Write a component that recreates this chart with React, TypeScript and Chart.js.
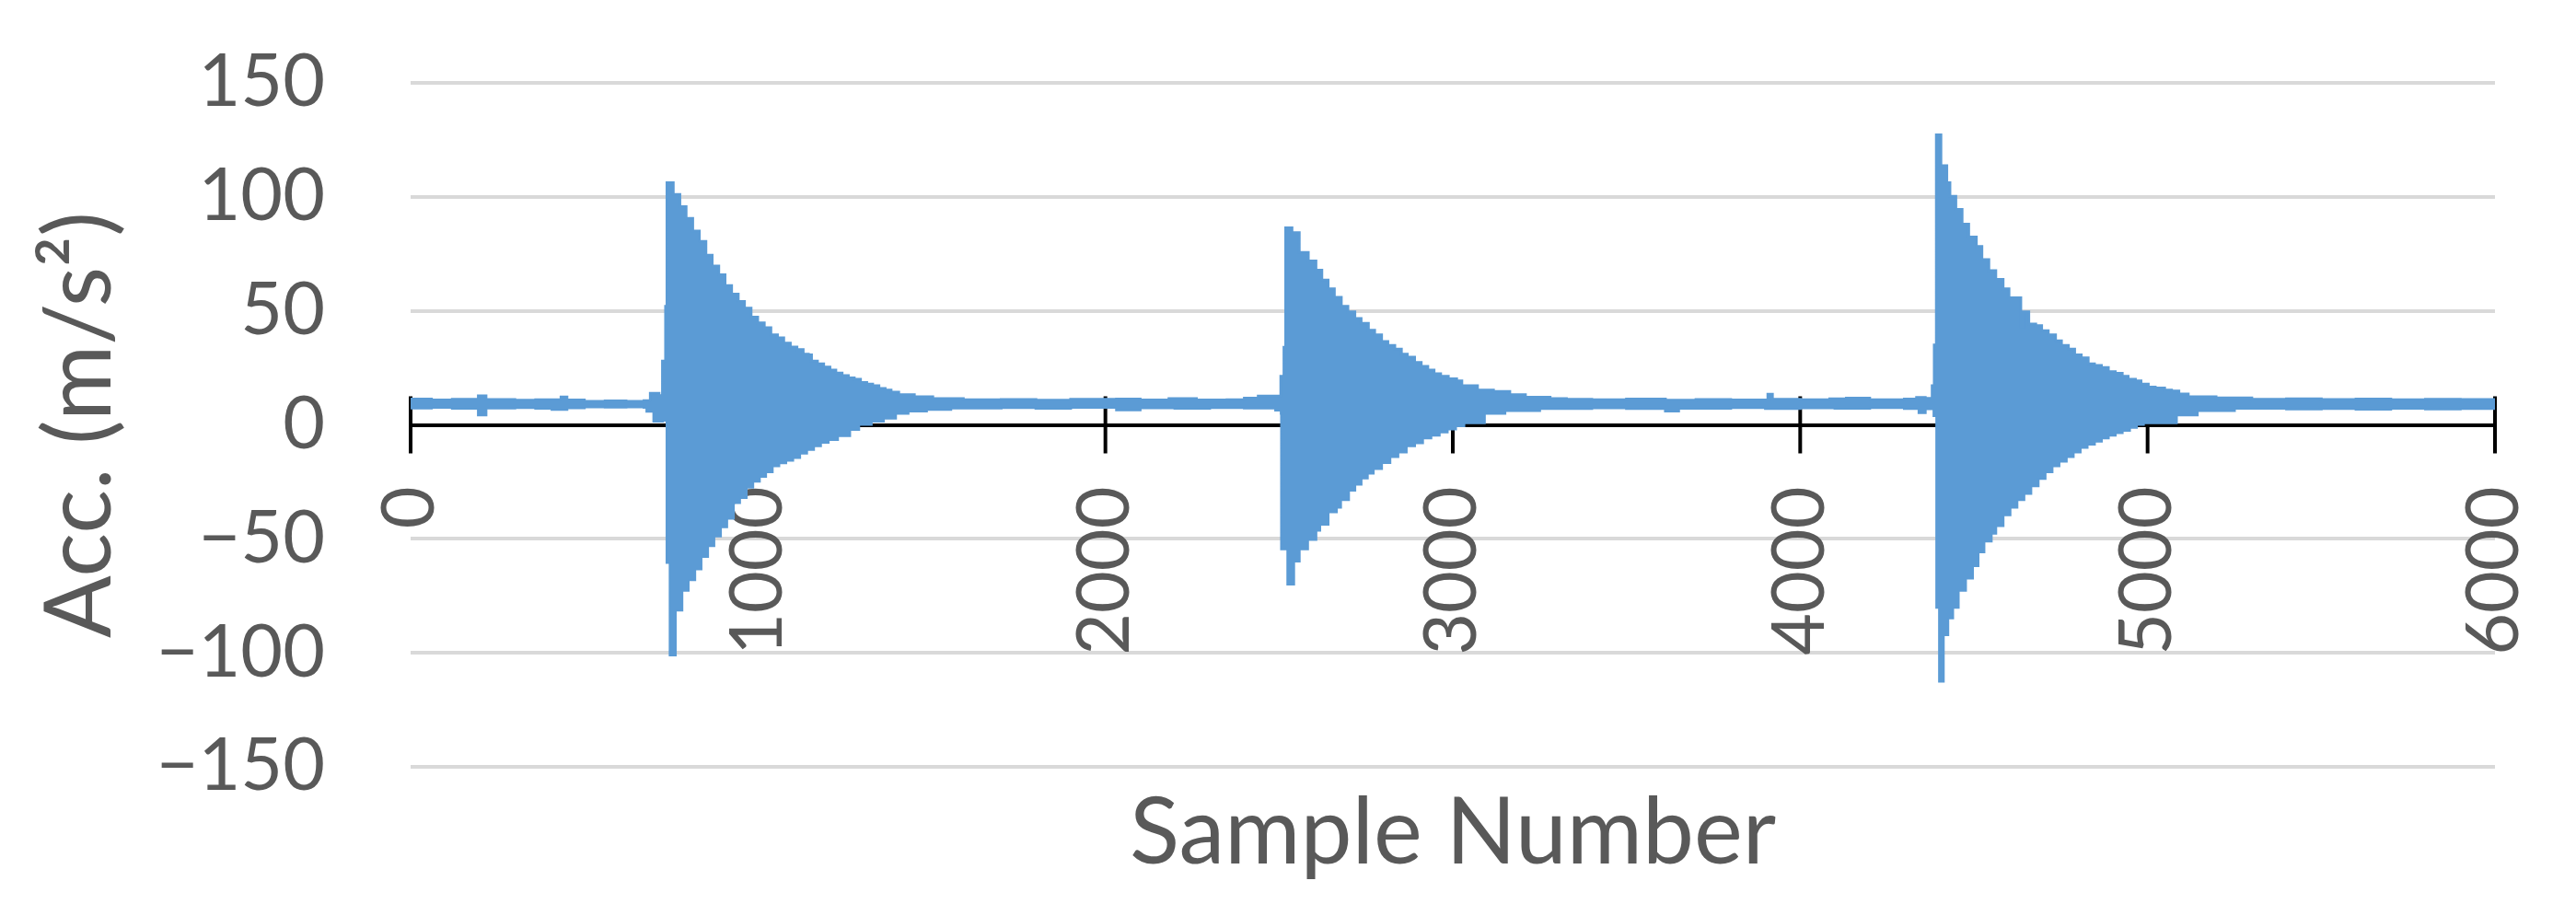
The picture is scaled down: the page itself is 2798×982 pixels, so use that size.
import React, { useEffect, useRef } from "react";
import { Chart, registerables } from "chart.js";

Chart.register(...registerables);

// Upper envelope of the acceleration trace (sample number, m/s²)
const upperSample = [
  0, 60, 120, 195, 217, 300, 360, 433, 450, 500, 560, 620, 672, 690, 715, 725, 734,
  738, 756, 775, 793, 812, 831, 850, 868, 887, 905, 924, 943, 961, 980, 999, 1018,
  1037, 1056, 1074, 1093, 1112, 1130, 1145, 1154, 1171, 1189, 1207, 1224, 1242, 1260,
  1277, 1295, 1313, 1330, 1348, 1366, 1383, 1405, 1450, 1503, 1591,
  1700, 1800, 1900, 2032, 2100, 2183, 2262, 2350, 2400, 2440, 2505, 2514,
  2519, 2537, 2558, 2584, 2606, 2623, 2641, 2659, 2679, 2698, 2718, 2736, 2757, 2775,
  2795, 2813, 2833, 2852, 2869, 2890, 2909, 2928, 2946, 2965, 2987, 3011, 3026, 3071,
  3117, 3164, 3209, 3280, 3327,
  3400, 3500, 3612, 3700, 3800, 3907, 3920, 4000, 4085, 4133, 4200, 4300, 4335, 4360,
  4380, 4386, 4392, 4405, 4422, 4431, 4448, 4466, 4485, 4507, 4523, 4543, 4563, 4584,
  4601, 4635, 4642, 4658, 4678, 4695, 4714, 4735, 4752, 4772, 4790, 4809, 4829, 4847,
  4867, 4887, 4907, 4927, 4944, 4965, 4981, 5002, 5022, 5049, 5069, 5090, 5117, 5197,
  5300, 5400, 5500, 5600, 5700, 5800, 5900, 6000,
];
const upperAcc = [
  11.3, 10.9, 11.2, 12.7, 11.1, 10.8, 11.0, 12.2, 10.9, 10.3, 10.5, 10.3, 10.6, 13.8, 12.8, 28, 52,
  106.2, 101, 95.7, 90.5, 85, 80.5, 74.4, 69.6, 65.8, 61.1, 57.3, 54.1, 51.2, 47.2, 44.7, 42.6,
  39.5, 38.2, 35.8, 34.1, 33.0, 31.0, 30.7, 28.0, 26.7, 25.3, 24.0, 22.7, 21.6, 20.6,
  20.0, 18.6, 17.9, 17.2, 15.9, 15.2, 14.3, 13.2, 12.3, 11.5, 11.0,
  11.1, 10.8, 11.2, 11.3, 10.9, 11.5, 10.9, 11.0, 11.7, 12.6, 21.3, 34,
  86.4, 84.3, 75.6, 71.9, 67.8, 63.5, 59.7, 55.9, 52.0, 49.6, 46.6, 44.5, 41.5, 39.5,
  36.5, 34.8, 33.2, 31.0, 29.7, 27.4, 25.6, 24.0, 22.4, 21.3, 20.2, 19.3, 17.2, 15.2,
  14.6, 13.2, 12.1, 11.5, 11.2,
  11.0, 11.3, 10.8, 11.1, 10.9, 13.4, 11.2, 11.0, 11.4, 11.7, 11.0, 11.3, 12.0, 11.6,
  17.2, 35, 127.2, 113.7, 106.2, 100.2, 94.5, 88.0, 82.4, 78.2, 72.5, 67.6, 63.8, 59.7,
  55.7, 43, 49.6, 44.2, 43.5, 41.3, 39.5, 36.8, 34.8, 33.2, 30.7, 29.4, 26.7, 26.0,
  25.1, 23.3, 22.6, 21.3, 20.0, 19.3, 17.9, 16.6, 16.2, 15.2, 14.8, 13.5, 12.3, 11.8,
  11.2, 11.4, 11.1, 11.3, 11.0, 11.2, 11.1, 10.9,
];

// Lower envelope of the acceleration trace (sample number, m/s²)
const lowerSample = [
  0, 60, 120, 195, 217, 300, 360, 407, 450, 500, 560, 620, 672, 680, 700, 725,
  738, 747, 762, 781, 799, 818, 836, 855, 873, 892, 910, 929, 947, 966, 985, 1004,
  1022, 1041, 1060, 1080, 1100, 1120, 1140, 1160, 1180, 1202, 1229, 1264, 1290, 1326,
  1361, 1396, 1432, 1485, 1555,
  1700, 1800, 1900, 2032, 2100, 2200, 2300, 2400, 2490, 2506,
  2507, 2525, 2542, 2558, 2582, 2606, 2617, 2641, 2665, 2677, 2700, 2718, 2736, 2754,
  2771, 2795, 2819, 2842, 2866, 2890, 2913, 2937, 2961, 2984, 3008, 3032, 3091, 3150,
  3250,
  3400, 3500, 3612, 3650, 3800, 3900, 4000, 4100, 4200, 4300, 4342, 4360, 4385,
  4393, 4401, 4412, 4425, 4439, 4455, 4476, 4496, 4512, 4529, 4550, 4563, 4584, 4604,
  4624, 4644, 4664, 4685, 4705, 4725, 4745, 4766, 4786, 4806, 4826, 4847, 4867, 4887,
  4907, 4927, 4948, 4968, 4988, 5083, 5143,
  5250, 5400, 5500, 5600, 5700, 5800, 5900, 6000,
];
const lowerAcc = [
  7.4, 7.7, 7.3, 4.3, 7.4, 7.6, 7.3, 6.8, 7.5, 7.9, 7.8, 7.9, 7.7, 6.0, 1.6, 2.0,
  -60.4, -100.9, -81.3, -72.6, -67.9, -63.2, -57.7, -53.0, -48.8, -44.7, -41.0, -34.1, -31.9, -27.4, -24.7, -22.6,
  -20.6, -18.0, -16.7, -15.5, -14.3, -12.4, -10.8, -9.2, -7.7, -6.5, -4.7, -2.0, 0.2, 1.6,
  2.9, 5.0, 6.1, 6.8, 7.4,
  7.6, 7.3, 7.7, 6.6, 7.5, 7.3, 7.6, 7.4, 6.5, 5.0,
  -54.4, -69.9, -59.8, -54.4, -50.3, -46.2, -43.6, -38.2, -36.1, -32.8, -28.7, -26.0, -23.3, -21.2,
  -19.2, -16.6, -13.9, -11.9, -9.2, -7.9, -5.8, -4.5, -3.1, -1.8, -0.4, 0.9, 5.0, 6.3,
  7.2,
  7.5, 7.2, 6.1, 7.3, 7.6, 7.2, 7.5, 7.3, 7.6, 7.2, 5.4, 7.1, 4.0,
  -80, -112.4, -92.1, -84.7, -80.0, -72.6, -67.2, -61.8, -55.7, -51.0, -47.5, -44.2, -39.5, -36.1,
  -32.8, -30.1, -26.7, -23.5, -20.6, -18.0, -15.9, -13.9, -11.9, -9.9, -8.5, -7.2, -5.8, -4.5,
  -3.4, -2.4, -1.1, 0.2, 0.9, 4.3, 6.3,
  7.3, 7.0, 7.2, 6.9, 7.3, 7.0, 7.2, 7.5,
];

const xTicks = [0, 1000, 2000, 3000, 4000, 5000, 6000];
const yTicks = [-150, -100, -50, 0, 50, 100, 150];

const BLUE = "#5B9BD5";
const TEXT = "#595959";
const FONT = "Lato";

const crossTicks = {
  id: "crossTicks",
  beforeDatasetsDraw(chart: any) {
    const xs = chart.scales.x;
    const ys = chart.scales.y;
    const ctx = chart.ctx;
    const y0 = ys.getPixelForValue(0);
    ctx.save();
    ctx.strokeStyle = "#000000";
    ctx.lineWidth = 4;
    xTicks.forEach((v) => {
      const px = xs.getPixelForValue(v);
      ctx.beginPath();
      ctx.moveTo(px, y0 - 31);
      ctx.lineTo(px, y0 + 31);
      ctx.stroke();
    });
    ctx.restore();
  },
};

export default function App() {
  const ref = useRef<HTMLCanvasElement | null>(null);

  useEffect(() => {
    if (!ref.current) return;
    const upper = upperSample.map((s, i) => ({ x: s, y: upperAcc[i] }));
    const lower = lowerSample.map((s, i) => ({ x: s, y: lowerAcc[i] }));
    const chart = new Chart(ref.current, {
      type: "line",
      data: {
        datasets: [
          {
            data: upper,
            borderColor: BLUE,
            backgroundColor: BLUE,
            borderWidth: 3,
            pointRadius: 0,
            stepped: "before",
            fill: "+1",
          },
          {
            data: lower,
            borderColor: BLUE,
            backgroundColor: BLUE,
            borderWidth: 3,
            pointRadius: 0,
            stepped: "before",
            fill: false,
          },
        ],
      },
      plugins: [crossTicks],
      options: {
        animation: false,
        responsive: false,
        devicePixelRatio: 1,
        layout: { padding: { top: 90, right: 88, bottom: 0, left: 0 } },
        plugins: {
          legend: { display: false },
          tooltip: { enabled: false },
          title: {
            display: true,
            position: "bottom",
            fullSize: false,
            text: "Sample Number",
            color: TEXT,
            font: { family: FONT, size: 100, weight: "normal" },
            padding: { top: 13, bottom: 16 },
          },
        },
        scales: {
          x: {
            type: "linear",
            position: { y: 0 } as any,
            min: 0,
            max: 6000,
            afterBuildTicks: (scale: any) => {
              scale.ticks = xTicks.map((v) => ({ value: v }));
            },
            afterFit: (scale: any) => {
              scale.paddingLeft = 0;
              scale.paddingRight = 0;
            },
            ticks: {
              minRotation: 90,
              maxRotation: 90,
              padding: 67,
              color: TEXT,
              font: { family: FONT, size: 79 },
              autoSkip: false,
              callback: (v: any) => String(v),
            },
            grid: { display: true, drawOnChartArea: false, drawTicks: false },
            border: { display: true, color: "#000000", width: 4 },
          },
          y: {
            type: "linear",
            min: -150,
            max: 150,
            afterBuildTicks: (scale: any) => {
              scale.ticks = yTicks.map((v) => ({ value: v }));
            },
            afterFit: (scale: any) => {
              scale.width = 446;
              scale.paddingTop = 0;
              scale.paddingBottom = 0;
            },
            ticks: {
              padding: 93,
              color: TEXT,
              font: { family: FONT, size: 79 },
              callback: (v: any) => String(v).replace("-", "\u2212"),
            },
            grid: { color: "#D9D9D9", lineWidth: 4, drawTicks: false },
            border: { display: false },
            title: {
              display: true,
              text: "Acc. (m/s²)",
              color: TEXT,
              font: { family: FONT, size: 100, weight: "normal" },
              padding: { top: 28, bottom: 0 },
            },
          },
        },
      },
    });
    return () => chart.destroy();
  }, []);

  return (
    <div style={{ position: "absolute", left: 0, top: 0, width: 2798, height: 982, background: "#fff" }}>
      <canvas ref={ref} width={2798} height={982} style={{ width: 2798, height: 982, display: "block" }} />
    </div>
  );
}
